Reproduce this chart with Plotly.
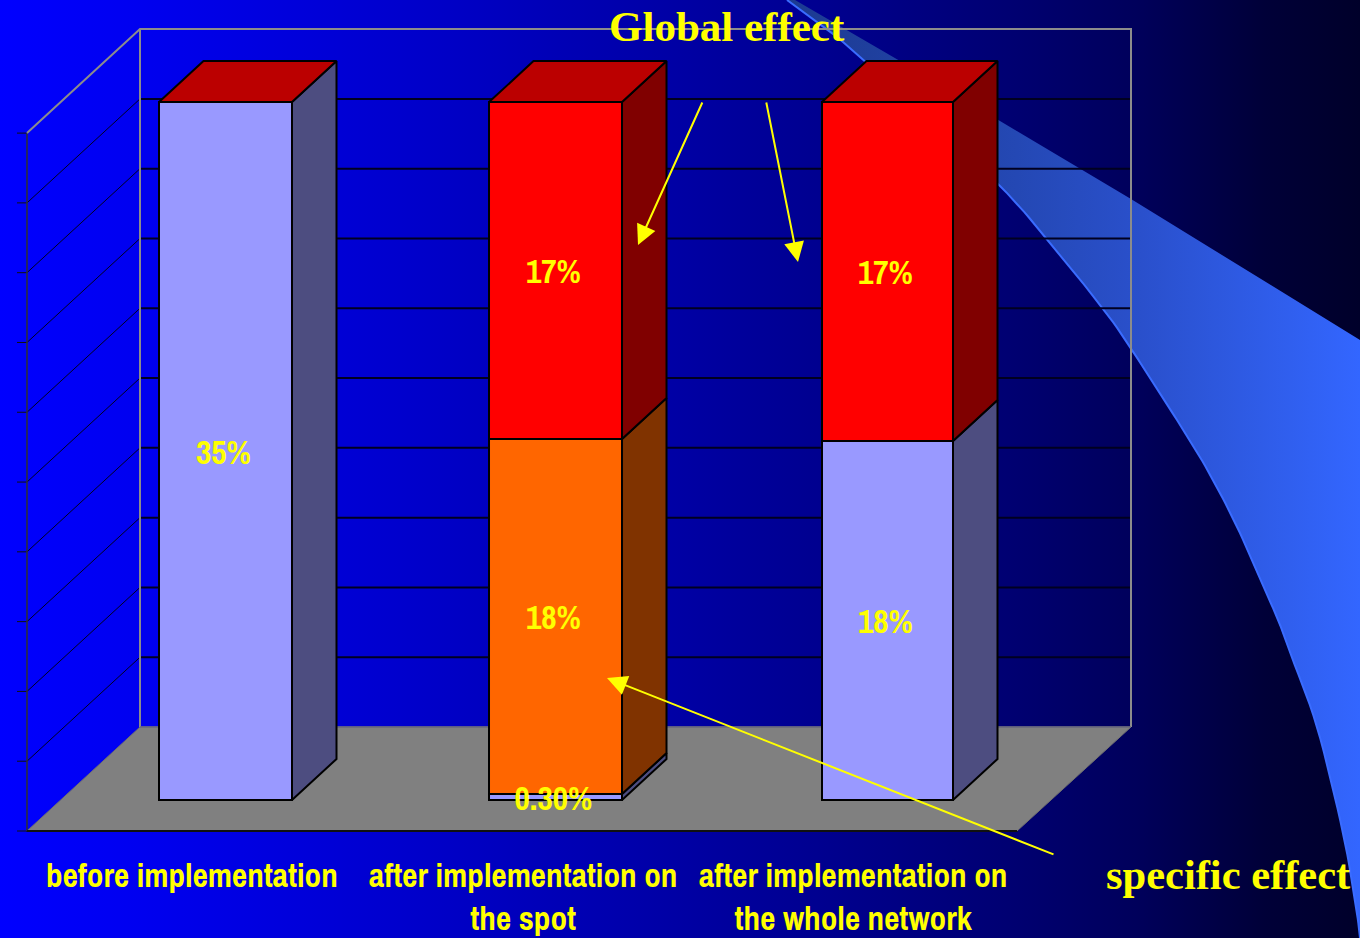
import plotly.graph_objects as go

# ---------- data ----------
categories = ["before implementation", "after implementation on<br>the spot", "after implementation on<br>the whole network"]
series_a = [35, 0.3, 18]
series_b = [0, 17.8, 0]
series_c = [0, 16.9, 17]
labels_a = ["35%", "0.30%", "18%"]
labels_b = ["", "18%", ""]
labels_c = ["", "17%", "17%"]
axis_ticks = [0, 3.5, 7, 10.5, 14, 17.5, 21, 24.5, 28, 31.5, 35]

# ---------- scale / style constants ----------
W, H = 1360, 938
AXIS_BOTTOM = 832
X0, X_STEP = 225.5, 331.0
Y0, Y_STEP = 800.0, 19.94
BAR_WS = [133 / X_STEP, 133 / X_STEP, 131 / X_STEP]
BAR_POS = [0, 0.997, 2]
DX, DY = 44.5 / X_STEP, 41 / Y_STEP
def ux(p): return (p - X0) / X_STEP
def uy(p): return (Y0 - p) / Y_STEP

FRONT_L, FRONT_R, BACK_L, BACK_R = ux(27), ux(1017), ux(140), ux(1131)
FLOOR_FRONT, FLOOR_BACK = uy(831), uy(727)
TOP = axis_ticks[-1]
NARROW = "'Archivo Narrow', 'Roboto Condensed', 'Liberation Sans', sans-serif"
SERIF = "Liberation Serif"
YEL = "#ffff00"
series_style = [("#9999ff", "#4d4d80"), ("#ff6600", "#803300"), ("#ff0000", "#800000")]
TOP_FACE = "#bb0000"

fig = go.Figure()

# ---------- slide decoration (pixel axes) ----------
fig.add_trace(go.Scatter(
    x=[0, W, W, 0, 0], y=[0, 0, H, H, 0], mode="lines", line=dict(width=0), fill="toself",
    fillgradient=dict(type="horizontal", colorscale=[
        [0, "#0000ff"], [0.10, "#0000f0"], [0.3, "#0000cc"], [0.5, "#0000a4"], [0.62, "#00008c"],
        [0.75, "#000070"], [0.84, "#00005a"], [0.93, "#000038"], [1, "#00002a"]]),
    hoverinfo="skip", showlegend=False, xaxis="x", yaxis="y"))

def smooth(px_, py_, n=8):
    ox, oy = [], []
    m = len(px_)
    for i in range(m - 1):
        p0 = max(i - 1, 0); p3 = min(i + 2, m - 1)
        for k in range(n):
            t = k / n
            f = lambda a, b, c, d: 0.5 * (2*b + (c-a)*t + (2*a-5*b+4*c-d)*t*t + (3*b-a-3*c+d)*t**3)
            ox.append(f(px_[p0], px_[i], px_[i+1], px_[p3]))
            oy.append(f(py_[p0], py_[i], py_[i+1], py_[p3]))
    ox.append(px_[-1]); oy.append(py_[-1])
    return ox, oy

edge_x0 = [787, 843, 920, 1000, 1046, 1104, 1132, 1153, 1177, 1200, 1220, 1240, 1260, 1277, 1289, 1317, 1343, 1356, 1360]
edge_y0 = [0, 42, 112, 186, 238, 310, 350, 383, 420, 457, 493, 533, 580, 617, 650, 727, 833, 907, 938]
edge_x, edge_y = smooth(edge_x0, edge_y0)
fig.add_trace(go.Scatter(
    x=[795, 900, 1000, 1131, 1360, 1360] + edge_x[::-1],
    y=[0, 61, 121, 199, 340, 938] + edge_y[::-1],
    mode="lines", line=dict(width=0), fill="toself",
    fillgradient=dict(type="horizontal", colorscale=[
        [0, "#1c3a90"], [0.4, "#2448b4"], [0.62, "#2a50cc"], [1, "#3366ff"]]),
    hoverinfo="skip", showlegend=False, xaxis="x", yaxis="y"))
fig.add_trace(go.Scatter(x=edge_x, y=edge_y, mode="lines", line=dict(color="#3a6cff", width=2),
                         hoverinfo="skip", showlegend=False, xaxis="x", yaxis="y"))

# ---------- chart helpers (data axes) ----------
def poly(xs, ys, fill, line="black", width=2, layer=3):
    fig.add_trace(go.Scatter(x=xs, y=ys, mode="lines", fill="toself" if fill else None, fillcolor=fill,
                             line=dict(color=line, width=width), hoverinfo="skip",
                             showlegend=False, xaxis=f"x{layer}", yaxis=f"y{layer}", cliponaxis=False))

# floor (wall layer sits under the bar layer)
poly([FRONT_L, FRONT_R, BACK_R, BACK_L, FRONT_L],
     [FLOOR_FRONT, FLOOR_FRONT, FLOOR_BACK, FLOOR_BACK, FLOOR_FRONT], "#808080", "#707070", 1, 2)

# gridlines on back and left walls, plus left ticks
for t in axis_ticks[1:-1]:
    poly([BACK_L, BACK_R], [t + FLOOR_BACK] * 2, None, "#000020", 2, 2)
    poly([FRONT_L, BACK_L], [t + FLOOR_FRONT, t + FLOOR_BACK], None, "#000020", 1, 2)
for t in axis_ticks:
    poly([ux(17), FRONT_L], [t + FLOOR_FRONT] * 2, None, "#101010", 1, 2)
poly([FRONT_L, FRONT_L], [FLOOR_FRONT, TOP + FLOOR_FRONT], None, "#303030", 1.5, 2)

# wall outline
poly([FRONT_L, BACK_L, BACK_R, BACK_R], [TOP + FLOOR_FRONT, TOP + FLOOR_BACK, TOP + FLOOR_BACK, FLOOR_BACK],
     None, "#8c8c8c", 2, 2)
poly([BACK_L, BACK_L], [FLOOR_BACK, TOP + FLOOR_BACK], None, "#8c8c8c", 2, 2)
poly([BACK_L, BACK_R], [FLOOR_BACK, FLOOR_BACK], None, "#6a6a80", 1.5, 2)

# front floor edge and its category ticks
poly([FRONT_L, FRONT_R], [FLOOR_FRONT, FLOOR_FRONT], None, "#101010", 2, 2)
for i in range(4):
    tx = FRONT_L + i * (FRONT_R - FRONT_L) / 3
    poly([tx, tx], [FLOOR_FRONT, uy(844)], None, "#101010", 1, 2)

# bars
all_series = [series_a, series_b, series_c]
all_labels = [labels_a, labels_b, labels_c]
bases = [0, 0, 0]
label_x, label_y, label_t = [], [], []
for vals, labs, (col, side) in zip(all_series, all_labels, series_style):
    fig.add_trace(go.Bar(x=BAR_POS, y=vals, base=list(bases), width=BAR_WS,
                         marker=dict(color=col, line=dict(color="black", width=2)),
                         hoverinfo="skip", showlegend=False, xaxis="x3", yaxis="y3"))
    for i, v in enumerate(vals):
        if v:
            r = BAR_POS[i] + BAR_WS[i] / 2
            b = bases[i]
            poly([r, r + DX, r + DX, r, r], [b, b + DY, b + v + DY, b + v, b], side)
            label_x.append(BAR_POS[i] - 2 / X_STEP)
            label_y.append(b + v / 2 - 4.5 / Y_STEP)
            label_t.append(labs[i])
    bases = [b + v for b, v in zip(bases, vals)]
for i, b in enumerate(bases):
    l, r = BAR_POS[i] - BAR_WS[i] / 2, BAR_POS[i] + BAR_WS[i] / 2
    poly([l, r, r + DX, l + DX, l], [b, b, b + DY, b + DY, b], TOP_FACE)

fig.add_trace(go.Scatter(x=label_x, y=label_y, text=label_t, mode="text", textposition="middle center",
                         textfont=dict(family=NARROW, size=33.5, color=YEL, weight="bold"),
                         hoverinfo="skip", showlegend=False, xaxis="x3", yaxis="y3", cliponaxis=False))

# ---------- annotations in page pixels ----------
def px(x): return x / W
def py(y): return 1 - y / H
anns = []
for text, x, y, size in [("Global effect", 727, 26, 43), ("specific effect", 1228, 874, 42.5)]:
    anns.append(dict(text=f"<b>{text}</b>", xref="paper", yref="paper", x=px(x), y=py(y), showarrow=False,
                     xanchor="center", yanchor="middle", font=dict(family=SERIF, size=size, color=YEL)))
arrow_tail_x = [703, 766, 1055]
arrow_tail_y = [101, 101, 855]
arrow_head_x = [638, 798, 607]
arrow_head_y = [245, 262, 678]
for tx, ty, hx, hy in zip(arrow_tail_x, arrow_tail_y, arrow_head_x, arrow_head_y):
    anns.append(dict(text="", xref="paper", yref="paper", x=px(hx), y=py(hy), ax=tx - hx, ay=ty - hy,
                     axref="pixel", ayref="pixel", showarrow=True, arrowhead=2, arrowsize=2, arrowwidth=2,
                     arrowcolor=YEL))
# category labels placed in page pixels under the front floor edge
for i, (text, cx) in enumerate(zip(categories, [191.5, 522.5, 852.5])):
    anns.append(dict(text=f"<b>{text}</b>", xref="paper", yref="paper", x=px(cx), y=py(851), showarrow=False,
                     xanchor="center", yanchor="top", align="center",
                     font=dict(family=NARROW, size=33.2, color=YEL)))

hidden = dict(visible=False, showgrid=False, zeroline=False, fixedrange=True, automargin=False)
dom = [1 - AXIS_BOTTOM / H, 1]
xr = [ux(0), ux(W)]
yr = [uy(AXIS_BOTTOM), uy(0)]
fig.update_layout(
    width=W, height=H, margin=dict(l=0, r=0, t=0, b=0, pad=0, autoexpand=False), paper_bgcolor="#000080",
    plot_bgcolor="rgba(0,0,0,0)", barmode="overlay", showlegend=False, annotations=anns,
    xaxis=dict(domain=[0, 1], range=[0, W], **hidden),
    yaxis=dict(domain=[0, 1], range=[H, 0], **hidden),
    xaxis2=dict(domain=[0, 1], range=xr, anchor="y2", **hidden),
    yaxis2=dict(domain=dom, range=yr, anchor="x2", **hidden),
    xaxis3=dict(domain=[0, 1], range=xr, anchor="y3", **hidden),
    yaxis3=dict(domain=dom, range=yr, anchor="x3", **hidden),
)

fig.write_html("out.html", config=dict(displayModeBar=False, responsive=False),
               post_script="document.body.style.margin='0';document.documentElement.style.overflow='hidden';")
